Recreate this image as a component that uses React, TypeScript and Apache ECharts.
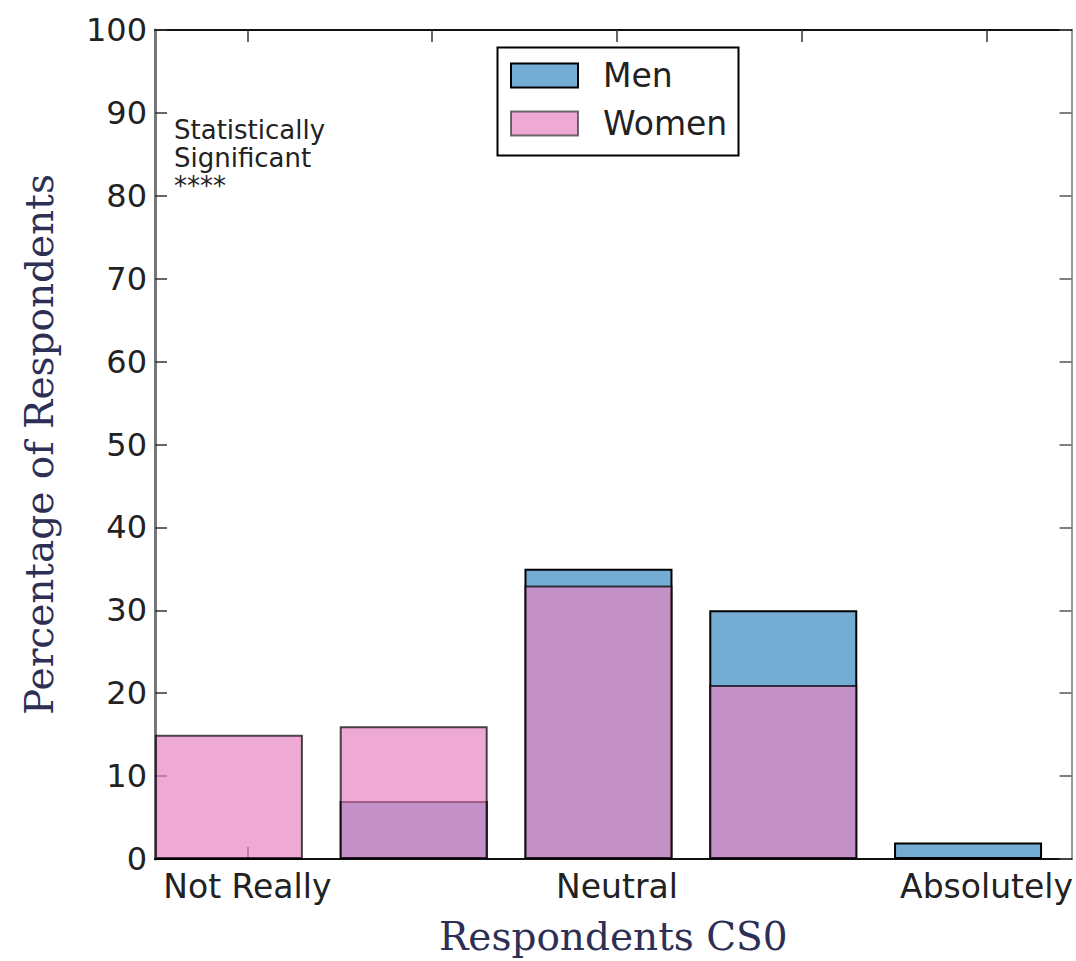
import React, { useEffect, useRef } from "react";
import * as echarts from "echarts";

const categories = ["Not Really", "", "Neutral", "", "Absolutely"];
const positions = [0, 1, 2, 3, 4];
const menValues = [0, 7, 35, 30, 2];
const womenValues = [15, 16, 33, 21, 0];
const labelTicks = [0, 2, 4];
const annotationLines = ["Statistically", "Significant", "****"];

const BAR_SHIFT = -0.1;

export default function App() {
  const ref = useRef<HTMLDivElement>(null);
  useEffect(() => {
    if (!ref.current) return;
    const chart = echarts.init(ref.current, undefined, { renderer: "svg" });
    const sans = "DejaVu Sans";
    const serif = "DejaVu Serif";
    const xBase = {
      type: "value",
      min: -0.5,
      max: 4.46,
      splitLine: { show: false },
    };
    const option: any = {
      animation: false,
      backgroundColor: "#ffffff",
      grid: { left: 155, right: 3, top: 30, bottom: 91, containLabel: false },
      legend: {
        orient: "vertical",
        left: 510,
        top: 59,
        padding: 0,
        itemWidth: 67,
        itemHeight: 24,
        itemGap: 15,
        icon: "rect",
        textStyle: {
          fontFamily: sans,
          fontSize: 33,
          lineHeight: 33,
          color: "#222",
          padding: [0, 0, 0, 20],
        },
        data: [
          { name: "Men", itemStyle: { borderColor: "#000", borderWidth: 2 } },
          { name: "Women", itemStyle: { borderColor: "#333", borderWidth: 2 } },
        ],
      },
      xAxis: [
        {
          ...xBase,
          position: "bottom",
          name: "Respondents CS0",
          nameLocation: "middle",
          nameGap: 58,
          nameTextStyle: { fontFamily: serif, fontSize: 39, color: "#2d2f55" },
          axisLine: { show: true, onZero: false, lineStyle: { color: "#111", width: 2 } },
          axisTick: {
            show: true,
            inside: true,
            length: 12,
            customValues: positions,
            lineStyle: { color: "#333", width: 1.5 },
          },
          axisLabel: {
            show: true,
            customValues: labelTicks,
            margin: 11,
            fontFamily: sans,
            fontSize: 33,
            color: "#222",
            formatter: (v: number) => categories[Math.round(v)] ?? "",
          },
        },
        {
          ...xBase,
          position: "top",
          axisLine: { show: true, onZero: false, lineStyle: { color: "#111", width: 2 } },
          axisTick: {
            show: true,
            inside: true,
            length: 12,
            customValues: positions,
            lineStyle: { color: "#333", width: 1.5 },
          },
          axisLabel: { show: false },
        },
      ],
      yAxis: [
        {
          type: "value",
          min: 0,
          max: 100,
          interval: 10,
          position: "left",
          name: "Percentage of Respondents",
          nameLocation: "middle",
          nameGap: 96,
          nameRotate: 90,
          nameTextStyle: { fontFamily: serif, fontSize: 39, color: "#2d2f55" },
          splitLine: { show: false },
          axisLine: { show: true, onZero: false, lineStyle: { color: "#777", width: 3 } },
          axisTick: { show: true, inside: true, length: 12, lineStyle: { color: "#333", width: 1.5 } },
          axisLabel: { show: true, margin: 8, fontFamily: sans, fontSize: 32, color: "#222" },
        },
        {
          type: "value",
          min: 0,
          max: 100,
          interval: 10,
          position: "right",
          splitLine: { show: false },
          axisLine: { show: true, onZero: false, lineStyle: { color: "#999", width: 2 } },
          axisTick: { show: true, inside: true, length: 12, lineStyle: { color: "#555", width: 1.5 } },
          axisLabel: { show: false },
        },
      ],
      series: [
        {
          name: "Men",
          type: "bar",
          xAxisIndex: 0,
          yAxisIndex: 0,
          barWidth: 148,
          barGap: "-100%",
          data: positions.map((p, i) => [p + BAR_SHIFT, menValues[i]]),
          itemStyle: { color: "#74acd3", borderColor: "#000", borderWidth: 2, opacity: 1 },
          z: 2,
        },
        {
          name: "Women",
          type: "bar",
          xAxisIndex: 0,
          yAxisIndex: 0,
          barWidth: 148,
          barGap: "-100%",
          data: positions.map((p, i) => [p + BAR_SHIFT, womenValues[i]]),
          itemStyle: { color: "rgb(231,134,194)", borderColor: "#000", borderWidth: 2, opacity: 0.7 },
          z: 3,
        },
      ],
      graphic: [
        {
          type: "rect",
          left: 495,
          top: 45,
          shape: { width: 241, height: 108 },
          style: { fill: "none", stroke: "#000", lineWidth: 2 },
          z: 10,
        },
        {
          type: "text",
          left: 174,
          top: 116,
          style: {
            text: annotationLines.join("\n"),
            fontFamily: sans,
            fontSize: 26,
            lineHeight: 28,
            fill: "#222",
          },
          z: 10,
        },
      ],
    };
    chart.setOption(option);
    return () => chart.dispose();
  }, []);
  return (
    <div
      ref={ref}
      style={{ position: "fixed", left: 0, top: 0, width: 1076, height: 961, background: "#fff" }}
    />
  );
}
